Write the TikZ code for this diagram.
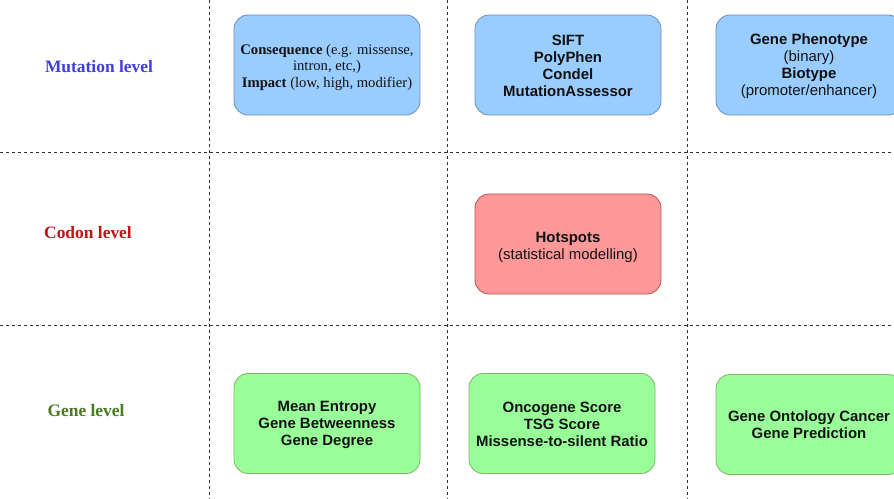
\documentclass[tikz,border=0pt]{standalone}
\usepackage{fontspec}
\setmainfont{Liberation Sans}
\newfontfamily\serifrm{Liberation Serif}
\definecolor{bluefill}{HTML}{99CCFF}
\definecolor{bluedraw}{HTML}{6C8EBF}
\definecolor{redfill}{HTML}{FF9999}
\definecolor{reddraw}{HTML}{B85450}
\definecolor{greenfill}{HTML}{99FF99}
\definecolor{greendraw}{HTML}{82B366}
\definecolor{mutcol}{HTML}{3F3FE0}
\definecolor{codcol}{HTML}{C01515}
\definecolor{genecol}{HTML}{4A7A22}
\definecolor{gridcol}{HTML}{333333}
\definecolor{txtcol}{HTML}{111111}
\begin{document}
\begin{tikzpicture}[x=1bp,y=-1bp,
  cell/.style={rounded corners=14bp, line width=0.8bp, minimum width=186bp, minimum height=100bp,
    inner sep=0pt},
  bluebox/.style={cell, fill=bluefill, draw=bluedraw},
  redbox/.style={cell, fill=redfill, draw=reddraw},
  greenbox/.style={cell, fill=greenfill, draw=greendraw},
  boxtext/.style={inner sep=0pt, align=center, text=txtcol, font=\fontsize{15}{17}\selectfont},
  boldtext/.style={boxtext, font=\bfseries\fontsize{15}{17}\selectfont},
  lvl/.style={font=\serifrm\bfseries\fontsize{17.5}{20}\selectfont, inner sep=0pt},
  gridline/.style={draw=gridcol, line width=0.8bp, dash pattern=on 3bp off 3bp}]
\clip (0,0) rectangle (894,499);
\fill[white] (0,0) rectangle (894,499);
% grid
\coordinate (v1t) at (209,0); \coordinate (v1b) at (209,499);
\coordinate (v2t) at (447,0); \coordinate (v2b) at (447,499);
\coordinate (v3t) at (687,0); \coordinate (v3b) at (687,499);
\coordinate (h1l) at (0,152); \coordinate (h1r) at (894,152);
\coordinate (h2l) at (0,325); \coordinate (h2r) at (894,325);
\draw[gridline] (h1l) -- (h1r);
\draw[gridline] (h2l) -- (h2r);
\draw[gridline] (v1t) -- (v1b);
\draw[gridline] (v2t) -- (v2b);
\draw[gridline] (v3t) -- (v3b);
% level labels
\node[lvl, text=mutcol] (mut) at (99,67) {Mutation level};
\node[lvl, text=codcol] (cod) at (88,233) {Codon level};
\node[lvl, text=genecol] (gen) at (86,411) {Gene level};
% mutation row
\node[bluebox] (cons) at (327,65) {};
\node[boxtext, font=\serifrm\fontsize{14.7}{17}\selectfont] (tcons) at ([yshift=-2.5bp]cons.center)
  {\textbf{Consequence} (e.g. missense,\\intron, etc,)\\\textbf{Impact} (low, high, modifier)};
\node[bluebox] (sift) at (568,65) {};
\node[boldtext] (tsift) at ([yshift=-1bp]sift.center)
  {SIFT\\PolyPhen\\Condel\\MutationAssessor};
\node[bluebox] (pheno) at (809,65) {};
\node[boxtext] (tpheno) at ([yshift=-1.5bp]pheno.center)
  {\textbf{Gene Phenotype}\\(binary)\\\textbf{Biotype}\\(promoter/enhancer)};
% codon row
\node[redbox] (hot) at (568,244) {};
\node[boxtext] (thot) at ([yshift=-3bp]hot.center) {\textbf{Hotspots}\\(statistical modelling)};
% gene row
\node[greenbox] (ent) at (327,423.5) {};
\node[boldtext] (tent) at ([yshift=-1.5bp]ent.center)
  {Mean Entropy\\Gene Betweenness\\Gene Degree};
\node[greenbox] (onco) at (562,423.5) {};
\node[boldtext] (tonco) at ([yshift=-0.5bp]onco.center)
  {Oncogene Score\\TSG Score\\Missense-to-silent Ratio};
\node[greenbox] (go) at (809,424.5) {};
\node[boldtext] (tgo) at ([yshift=-0.5bp]go.center)
  {Gene Ontology Cancer\\Gene Prediction};
\end{tikzpicture}
\end{document}
